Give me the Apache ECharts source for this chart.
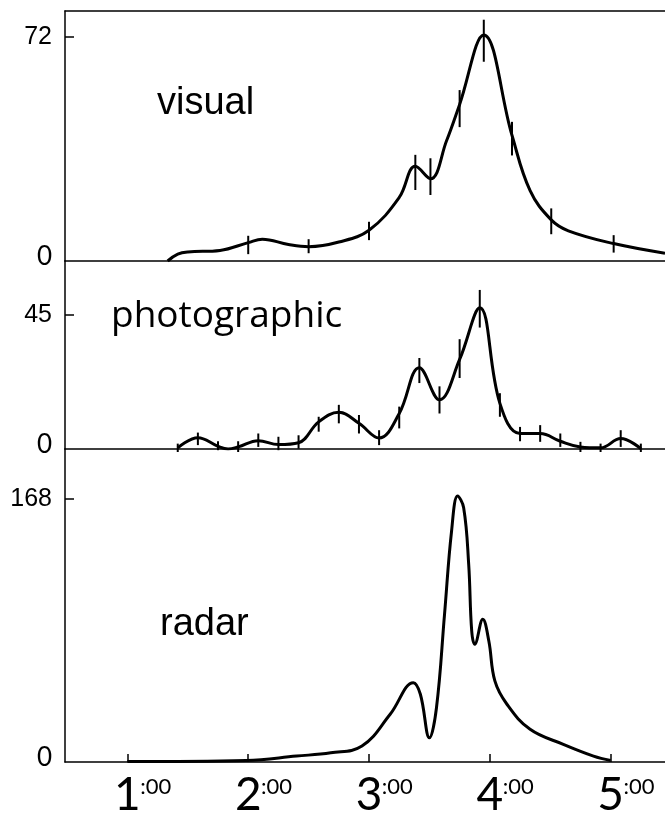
<!DOCTYPE html>
<html>
<head>
<meta charset="utf-8">
<script src="https://cdn.jsdelivr.net/npm/echarts@6/dist/echarts.min.js"></script>
<style>
    html, body { margin: 0; padding: 0; background: #fff; }
    #chart { width: 665px; height: 816px; }
</style>
</head>
<body>
<div id="chart"></div>
<script>
// time is minutes after midnight (60 = 1:00)
var hourTicks = [60, 120, 180, 240, 300];
var hourLabels = ['1', '2', '3', '4', '5'];

// visual counts
var visualTime = [80, 85, 90, 106, 120, 127, 140, 150, 165, 180, 195, 203, 210.5, 218.5, 225, 237, 251, 260, 270.5, 279, 301.5, 327];
var visualRate = [0, 2.2, 2.9, 3.4, 5.9, 7.0, 5.3, 4.6, 6.1, 9.9, 20.4, 30.4, 26.4, 38.6, 50.3, 72.6, 40.4, 22.6, 13.2, 9.7, 5.6, 2.5];
var visualBarTime = [120, 150, 180, 203, 210.5, 225, 237, 251, 270.5, 301.5];
var visualBarLow = [2.2, 2.5, 6.7, 22.8, 21.2, 43.0, 64.0, 33.9, 8.6, 2.7];
var visualBarHigh = [8.1, 7.0, 12.6, 34.1, 33.0, 54.9, 77.5, 44.7, 16.9, 8.3];

// photographic counts
var photoTime = [85, 95, 105, 110, 115, 125, 135, 145, 155, 165, 175, 185, 195, 205, 215, 225, 235, 245, 255, 265, 275, 285, 295, 305, 315];
var photoRate = [0.4, 3.8, 0.9, 0, 0.7, 2.8, 1.5, 2.1, 9.1, 12.3, 8.6, 3.7, 11.9, 27.2, 16.5, 30.0, 47.3, 15.3, 5.2, 5.2, 2.6, 0.7, 0.4, 3.5, 0.1];
var photoBarTime = [85, 95, 105, 115, 125, 135, 145, 155, 165, 175, 185, 195, 205, 215, 225, 235, 245, 255, 265, 275, 285, 295, 305, 315];
var photoBarLow = [-1.0, 1.3, -0.4, -1.0, 0.7, -0.4, 0.1, 5.8, 8.6, 5.2, 1.3, 6.9, 22.1, 11.9, 23.8, 40.7, 10.8, 2.6, 2.4, 0.7, -1.0, -1.0, 0.7, -1.0];
var photoBarHigh = [1.8, 5.5, 2.6, 2.6, 5.2, 4.1, 4.6, 10.8, 14.8, 11.4, 6.3, 14.2, 30.5, 21.0, 36.8, 53.3, 18.7, 7.4, 8.0, 5.2, 2.4, 1.8, 6.3, 1.8];

// radar counts
var radarTime = [60, 119, 144, 161, 176.5, 190.5, 202, 205.5, 210, 213.5, 217.5, 221, 224, 227, 229.5, 231, 232.5, 236.5, 239.5, 242.5, 248.5, 260, 276.5, 291.5, 300];
var radarRate = [0.3, 1, 3.8, 5.9, 10.2, 30.5, 50.7, 43.3, 15.5, 34.7, 94.4, 147.6, 170, 162.5, 126.3, 83.7, 75.2, 91.2, 77.3, 51.8, 36.9, 20.9, 11.3, 3.8, 1.0];

var panelNames = ['visual', 'photographic', 'radar'];
var panelTicks = [72, 45, 168];
var panelMax = [80.3, 63, 200];

function zip() {
    var cols = arguments;
    return cols[0].map(function (v, i) {
        var row = [];
        for (var k = 0; k < cols.length; k++) row.push(cols[k][i]);
        return row;
    });
}

function errorBar(params, api) {
    var top = api.coord([api.value(0), api.value(2)]);
    var bot = api.coord([api.value(0), api.value(1)]);
    return {
        type: 'line',
        shape: { x1: top[0], y1: top[1], x2: bot[0], y2: bot[1] },
        style: { stroke: '#000', lineWidth: 2 }
    };
}

var black = '#000';
var grids = [
    { left: 65, right: 0, top: 11, height: 250, outerBoundsMode: 'none' },
    { left: 65, right: 0, top: 261, height: 188, outerBoundsMode: 'none' },
    { left: 65, right: 0, top: 449, height: 313, outerBoundsMode: 'none' }
];

function makeX(gi, extra) {
    var ax = {
        type: 'value', gridIndex: gi, min: 29, max: 327,
        splitLine: { show: false },
        axisLine: { show: true, lineStyle: { color: black, width: 1.5 } },
        axisTick: { show: false },
        axisLabel: { show: false }
    };
    return Object.assign(ax, extra || {});
}

function makeY(gi) {
    return {
        type: 'value', gridIndex: gi, min: 0, max: panelMax[gi],
        splitLine: { show: false },
        axisLine: { show: true, onZero: false, lineStyle: { color: black, width: 1.5 } },
        axisTick: { show: true, inside: true, length: 9, customValues: [panelTicks[gi]], lineStyle: { color: black, width: 1.5 } },
        axisLabel: {
            customValues: [0, panelTicks[gi]],
            margin: 13,
            formatter: function (v) { return v === 0 ? '{z|0}' : '{n|' + v + '}'; },
            rich: {
                z: { fontFamily: 'Lato', fontSize: 26, color: black, padding: [0, 0, 9, 0] },
                n: { fontFamily: 'Liberation Sans', fontSize: 25, color: black }
            }
        }
    };
}

var chart = echarts.init(document.getElementById('chart'));
var option = {
    animation: false,
    backgroundColor: '#fff',
    grid: grids,
    xAxis: [
        makeX(0),
        makeX(0, { position: 'top' }),
        makeX(1),
        makeX(2, {
            axisTick: { show: true, inside: true, length: 8, customValues: hourTicks, lineStyle: { color: black, width: 1.5 } },
            axisLabel: {
                show: true,
                customValues: hourTicks,
                margin: 10,
                formatter: function (v) {
                    return '{sp|}{h|' + hourLabels[hourTicks.indexOf(v)] + '}{m|:00}';
                },
                rich: {
                    sp: { width: 30 },
                    h: { fontFamily: 'Lato', fontSize: 46, color: black, lineHeight: 46 },
                    m: { fontFamily: 'Lato', fontSize: 22, color: black, width: 30, lineHeight: 22, verticalAlign: 'top', padding: [4, 0, 0, 0] }
                }
            }
        })
    ],
    yAxis: [makeY(0), makeY(1), makeY(2)],
    graphic: [
        { type: 'text', left: 157, top: 85, style: { text: panelNames[0], font: '38px "Liberation Sans"', fill: black } },
        { type: 'text', left: 111, top: 298, style: { text: panelNames[1], font: '37px "Open Sans"', fill: black } },
        { type: 'text', left: 160, top: 606, style: { text: panelNames[2], font: '38px "Liberation Sans"', fill: black } }
    ],
    series: [
        {
            type: 'line', xAxisIndex: 0, yAxisIndex: 0, smooth: 0.4, showSymbol: false,
            data: zip(visualTime, visualRate),
            lineStyle: { color: black, width: 3 }
        },
        {
            type: 'custom', xAxisIndex: 0, yAxisIndex: 0, clip: false,
            data: zip(visualBarTime, visualBarLow, visualBarHigh),
            encode: { x: 0, y: [1, 2] },
            renderItem: errorBar
        },
        {
            type: 'line', xAxisIndex: 2, yAxisIndex: 1, smooth: 0.4, showSymbol: false,
            data: zip(photoTime, photoRate),
            lineStyle: { color: black, width: 3 }
        },
        {
            type: 'custom', xAxisIndex: 2, yAxisIndex: 1, clip: false,
            data: zip(photoBarTime, photoBarLow, photoBarHigh),
            encode: { x: 0, y: [1, 2] },
            renderItem: errorBar
        },
        {
            type: 'line', xAxisIndex: 3, yAxisIndex: 2, smooth: 0.4, showSymbol: false,
            data: zip(radarTime, radarRate),
            lineStyle: { color: black, width: 3 }
        }
    ]
};
chart.setOption(option);
</script>
</body>
</html>
